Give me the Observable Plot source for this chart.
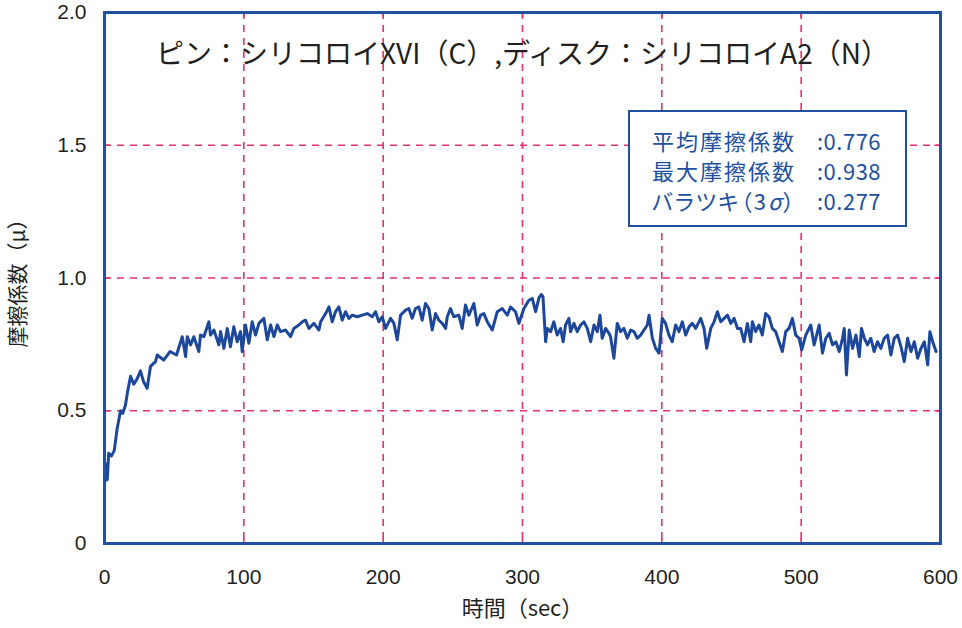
<!DOCTYPE html>
<html>
<head>
<meta charset="utf-8">
<script src="https://cdn.jsdelivr.net/npm/d3@7"></script>
<script src="https://cdn.jsdelivr.net/npm/@observablehq/plot@0.6"></script>
<style>
  body { margin: 0; background: #fff; }
  #chart { position: relative; width: 962px; height: 628px; font-family: "Noto Sans CJK JP", "Noto Sans", sans-serif; }
  .stats {
    position: absolute; left: 628px; top: 110px; width: 275px; height: 113px;
    border: 2px solid #2150a0; background: #fff; color: #2150a0;
    font-size: 22px; line-height: 30px; font-feature-settings: "palt";
  }
  .stats .row { position: absolute; left: 22px; white-space: nowrap; letter-spacing: 2px; }
  .stats .val { position: absolute; left: 187px; white-space: nowrap; letter-spacing: 0.5px; }
</style>
</head>
<body>
<div id="chart"></div>
<script>
// 時間(sec) と摩擦係数(μ) -- 図から読み取った値
const mu = [
  [0,0.22],[1,0.30],[2,0.24],[3,0.34],[5,0.33],[7,0.35],[9,0.43],[11.5,0.50],[13,0.49],[15,0.52],
  [16.5,0.57],[18.7,0.63],[21,0.60],[23.4,0.62],[25.8,0.65],[28,0.61],[30.6,0.585],[33,0.667],[36.6,0.685],[37.8,0.71],
  [42.5,0.691],[47,0.723],[51.7,0.71],[55.8,0.779],[58.2,0.704],[59.4,0.779],[61.8,0.748],[64.1,0.779],[67.7,0.723],[68.9,0.785],
  [71.3,0.779],[74.9,0.835],[76.1,0.785],[78.5,0.804],[82.1,0.748],[83.3,0.798],[85.7,0.735],[88.1,0.81],[90.4,0.741],[92.8,0.816],
  [95.2,0.76],[97.6,0.798],[98.8,0.723],[101.2,0.823],[103.6,0.754],[106,0.835],[108.4,0.785],[110.8,0.829],[114.4,0.848],[116.8,0.767],
  [119.2,0.823],[121.6,0.779],[124,0.823],[126.3,0.798],[130,0.804],[133.5,0.779],[135.9,0.81],[139.5,0.823],[141.9,0.835],[144.3,0.841],
  [146.7,0.81],[150.3,0.829],[153.9,0.804],[155.1,0.835],[158.7,0.866],[161.1,0.891],[163.4,0.835],[165.8,0.873],[168.2,0.891],[170.6,0.841],
  [173,0.873],[175.4,0.848],[177.8,0.86],[181.4,0.854],[185,0.86],[188.6,0.866],[192.2,0.854],[194.5,0.873],[196.9,0.835],[199.3,0.854],
  [201.7,0.81],[205.3,0.848],[207.7,0.829],[210.1,0.767],[212.5,0.86],[216.1,0.879],[218.4,0.885],[220.8,0.848],[223.2,0.885],[225.6,0.891],
  [228,0.841],[230.4,0.904],[232.8,0.885],[235.2,0.804],[237.6,0.866],[240,0.841],[242.4,0.829],[244.8,0.81],[246,0.854],[248.3,0.885],
  [250.7,0.854],[254.3,0.86],[256.7,0.81],[259.1,0.898],[261.5,0.86],[265.1,0.904],[267.5,0.823],[269.9,0.86],[272.3,0.866],[274.7,0.835],
  [278.3,0.804],[281.9,0.873],[285.5,0.885],[289.1,0.86],[291.4,0.891],[295,0.873],[297.4,0.829],[301,0.885],[304.6,0.916],[307,0.923],
  [309.4,0.873],[311.8,0.925],[313.5,0.938],[314.7,0.929],[316.6,0.76],[317.8,0.81],[320.2,0.798],[322.5,0.835],[324.9,0.785],[327.3,0.81],
  [329.2,0.76],[330.9,0.823],[333.3,0.848],[334.5,0.798],[336.9,0.829],[339.3,0.798],[341.7,0.823],[344.1,0.835],[346.5,0.81],[348.9,0.76],
  [351.3,0.823],[353.7,0.798],[355.6,0.86],[357.2,0.773],[359.6,0.81],[362,0.792],[363.2,0.779],[365.6,0.698],[368,0.829],[370.4,0.798],
  [372.8,0.81],[375.2,0.773],[377.6,0.804],[380,0.798],[382.4,0.773],[384.8,0.785],[387.2,0.804],[389.6,0.823],[390.8,0.86],[393.2,0.773],
  [395.6,0.735],[398,0.717],[400.3,0.848],[402.7,0.829],[405.1,0.785],[407.5,0.76],[409.9,0.823],[412.3,0.798],[414.7,0.835],[417.1,0.785],
  [419.5,0.816],[421.9,0.829],[424.3,0.81],[427.9,0.848],[430.3,0.81],[432.2,0.735],[435.1,0.81],[437.5,0.835],[439.9,0.873],[442.3,0.835],
  [444.7,0.848],[447.1,0.86],[449.5,0.829],[451.9,0.848],[454.3,0.81],[456.6,0.81],[459,0.76],[461.4,0.829],[463.8,0.76],[465,0.835],
  [467.3,0.798],[469.7,0.823],[472.1,0.785],[474.5,0.866],[476.9,0.854],[479.3,0.81],[481.7,0.798],[484.1,0.76],[486.5,0.723],[488.9,0.798],
  [491.3,0.81],[493.7,0.848],[496.1,0.785],[498.5,0.773],[500.4,0.729],[503.3,0.785],[506.9,0.823],[509.3,0.748],[512.9,0.823],[515.3,0.717],
  [517.7,0.773],[520.1,0.792],[522.5,0.748],[524.9,0.76],[527.3,0.723],[529.7,0.773],[530.9,0.81],[532.5,0.635],[534.5,0.804],[536.9,0.735],
  [539.3,0.785],[541.7,0.704],[543.3,0.81],[545.3,0.773],[547.6,0.748],[550,0.773],[552.4,0.723],[554.8,0.76],[557.2,0.735],[559.6,0.773],
  [562,0.785],[564.4,0.71],[566.8,0.773],[569.2,0.785],[571.6,0.742],[574,0.685],[576.4,0.773],[578.8,0.723],[581.2,0.76],[583.6,0.698],
  [586,0.735],[588.4,0.76],[590.8,0.673],[592.4,0.798],[594.4,0.76],[596.8,0.723]
];

const xTicks = [0, 100, 200, 300, 400, 500, 600];
const yTicks = [0, 0.5, 1.0, 1.5, 2.0];
const xGrid = [100, 200, 300, 400, 500];
const yGrid = [0.5, 1.0, 1.5];

const title = "ピン：シリコロイXVI（C）,ディスク：シリコロイA2（N）";
const xLabel = "時間（sec）";
const yLabel = "摩擦係数（μ）";

const statLabels = ["平均摩擦係数", "最大摩擦係数", "バラツキ（3<i>σ</i>）"];
const statValues = ["0.776", "0.938", "0.277"];

const data = mu.map(([t, v]) => ({t, v}));

const blue = "#2150a0";
const pink = "#e5316b";
const ink = "#231f20";
const cjk = "'Noto Sans CJK JP', 'Noto Sans', sans-serif";

const chart = Plot.plot({
  width: 962,
  height: 628,
  marginLeft: 104,
  marginRight: 22,
  marginTop: 12,
  marginBottom: 85,
  style: {fontFamily: "'Liberation Sans', Arial, sans-serif", fontSize: "21px", color: ink, background: "#fff"},
  x: {domain: [0, 600], ticks: xTicks, tickSize: 0, tickPadding: 26, label: null},
  y: {domain: [0, 2], ticks: yTicks, tickSize: 0, tickPadding: 18, label: null,
      tickFormat: d => d === 0 ? "0" : d.toFixed(1)},
  marks: [
    Plot.ruleX(xGrid, {stroke: pink, strokeWidth: 1.6, strokeDasharray: "7,6"}),
    Plot.ruleY(yGrid, {stroke: pink, strokeWidth: 1.6, strokeDasharray: "7,6"}),
    // 枠の内側の短い目盛
    Plot.ruleX(xGrid, {y1: 0, y2: 0.02, stroke: pink, strokeWidth: 1.6}),
    Plot.ruleX(xGrid, {y1: 1.98, y2: 2, stroke: pink, strokeWidth: 1.6}),
    Plot.ruleY(yGrid, {x1: 0, x2: 4, stroke: pink, strokeWidth: 1.6}),
    Plot.ruleY(yGrid, {x1: 596, x2: 600, stroke: pink, strokeWidth: 1.6}),
    Plot.line(data, {x: "t", y: "v", stroke: "#1d479b", strokeWidth: 3, strokeLinejoin: "round"}),
    Plot.frame({stroke: blue, strokeWidth: 3}),
    Plot.text([title], {frameAnchor: "top", dy: 32, fontSize: 28, fill: ink, fontFamily: cjk}),
    Plot.text([xLabel], {frameAnchor: "bottom", dy: 72, fontSize: 22, fill: ink, fontFamily: cjk}),
    Plot.text([yLabel], {frameAnchor: "left", textAnchor: "middle", dx: -86, rotate: -90, fontSize: 21, fill: ink, fontFamily: cjk})
  ]
});

d3.select("#chart").append(() => chart);

const box = d3.select("#chart").append("div").attr("class", "stats");
statLabels.forEach((lab, i) => {
  box.append("div").attr("class", "row").style("top", (13 + i * 30) + "px").html(lab);
  box.append("div").attr("class", "val").style("top", (13 + i * 30) + "px").text(":" + statValues[i]);
});
</script>
</body>
</html>
